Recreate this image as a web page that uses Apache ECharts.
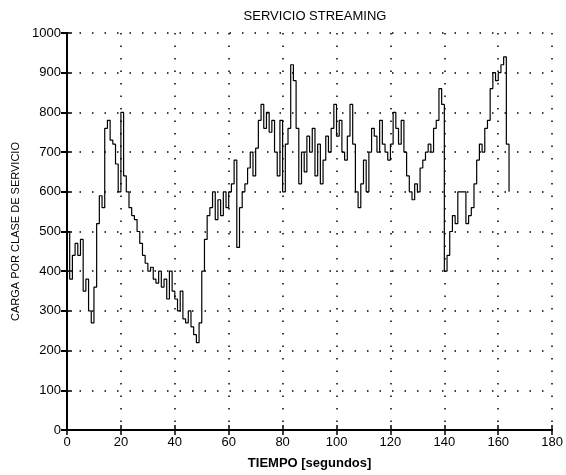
<!DOCTYPE html>
<html>
<head>
<meta charset="utf-8">
<script src="https://cdn.jsdelivr.net/npm/echarts@6/dist/echarts.min.js"></script>
<style>
  html, body { margin: 0; padding: 0; background: #fff; }
  #chart { width: 566px; height: 475px; }
</style>
</head>
<body>
<div id="chart"></div>
<script>
// Time instants (seconds) of each load sample
const tiempo = [
  0, 1, 2, 3, 4, 5, 6, 7, 8, 9, 10, 11, 12, 13, 14, 15, 16, 17, 18, 19,
  20, 21, 22, 23, 24, 25, 26, 27, 28, 29, 30, 31, 32, 33, 34, 35, 36, 37, 38, 39,
  40, 41, 42, 43, 44, 45, 46, 47, 48, 49, 50, 51, 52, 53, 54, 55, 56, 57, 58, 59,
  60, 61, 62, 63, 64, 65, 66, 67, 68, 69, 70, 71, 72, 73, 74, 75, 76, 77, 78, 79,
  80, 81, 82, 83, 84, 85, 86, 87, 88, 89, 90, 91, 92, 93, 94, 95, 96, 97, 98, 99,
  100, 101, 102, 103, 104, 105, 106, 107, 108, 109, 110, 111, 112, 113, 114, 115, 116, 117, 118, 119,
  120, 121, 122, 123, 124, 125, 126, 127, 128, 129, 130, 131, 132, 133, 134, 135, 136, 137, 138, 139,
  140, 141, 142, 143, 144, 145, 146, 147, 148, 149, 150, 151, 152, 153, 154, 155, 156, 157, 158, 159,
  160, 161, 162, 163, 164
];

// Streaming-service load at each instant
const carga = [
  500, 380, 440, 470, 440, 480, 350, 380, 300, 270, 360, 520, 590, 560, 760, 780, 730, 720, 670, 600,
  800, 640, 600, 560, 540, 530, 500, 470, 440, 420, 400, 410, 380, 370, 400, 360, 380, 330, 400, 350,
  330, 300, 350, 280, 270, 300, 260, 240, 220, 270, 400, 480, 540, 560, 600, 530, 580, 540, 600, 560,
  600, 620, 680, 460, 560, 600, 620, 660, 700, 640, 710, 780, 820, 760, 800, 750, 780, 700, 640, 780,
  600, 720, 760, 920, 880, 760, 620, 700, 650, 740, 700, 760, 640, 720, 620, 680, 740, 700, 760, 820,
  740, 780, 700, 680, 740, 820, 720, 600, 560, 620, 680, 600, 700, 760, 740, 700, 780, 720, 700, 680,
  720, 800, 760, 720, 780, 700, 640, 600, 580, 620, 600, 660, 680, 700, 720, 700, 760, 780, 860, 820,
  400, 440, 500, 540, 520, 600, 600, 600, 520, 540, 560, 620, 680, 720, 700, 760, 780, 860, 900, 880,
  900, 920, 940, 720, 600
];

// Axis ticks
const xTicks = [0, 20, 40, 60, 80, 100, 120, 140, 160, 180];
const yTicks = [0, 100, 200, 300, 400, 500, 600, 700, 800, 900, 1000];

const serie = tiempo.map((t, i) => [t, carga[i]]);

const gridDots = { show: true, lineStyle: { color: '#000', width: 1.5, type: [1.5, 11] } };
const tickFont = { color: '#000', fontFamily: 'Liberation Sans', fontSize: 13 };
const plain = (v) => String(v);

const chart = echarts.init(document.getElementById('chart'), null, { renderer: 'canvas' });
chart.setOption({
  animation: false,
  backgroundColor: '#fff',
  title: {
    text: 'SERVICIO STREAMING',
    left: 310,
    top: 5,
    textAlign: 'center',
    textStyle: { color: '#000', fontFamily: 'Liberation Sans', fontSize: 13, fontWeight: 'normal' }
  },
  grid: { left: 67, right: 13, top: 33, bottom: 45, containLabel: false },
  xAxis: [
    {
      type: 'value',
      min: xTicks[0],
      max: xTicks[xTicks.length - 1],
      interval: 20,
      name: 'TIEMPO [segundos]',
      nameLocation: 'middle',
      nameGap: 27,
      nameTextStyle: { color: '#000', fontFamily: 'Liberation Sans', fontSize: 13, fontWeight: 'bold' },
      axisLine: { show: true, lineStyle: { color: '#000', width: 2 } },
      axisTick: { show: true, inside: true, length: 5, lineStyle: { color: '#000', width: 1.5 } },
      axisLabel: Object.assign({ margin: 6, formatter: plain }, tickFont),
      splitLine: gridDots
    },
    {
      type: 'value',
      position: 'top',
      min: xTicks[0],
      max: xTicks[xTicks.length - 1],
      interval: 20,
      axisLine: { show: true, lineStyle: { color: '#000', width: 2 } },
      axisTick: { show: true, inside: true, length: 5, lineStyle: { color: '#000', width: 1.5 } },
      axisLabel: { show: false },
      splitLine: { show: false }
    }
  ],
  yAxis: [
    {
      type: 'value',
      min: yTicks[0],
      max: yTicks[yTicks.length - 1],
      interval: 100,
      name: 'CARGA POR CLASE DE SERVICIO',
      nameLocation: 'middle',
      nameRotate: 90,
      nameGap: 46,
      nameTextStyle: { color: '#000', fontFamily: 'Liberation Sans', fontSize: 11 },
      axisLine: { show: true, lineStyle: { color: '#000', width: 2 } },
      axisTick: { show: true, inside: true, length: 5, lineStyle: { color: '#000', width: 1.5 } },
      axisLabel: Object.assign({ margin: 6, formatter: plain }, tickFont),
      splitLine: gridDots
    },
    {
      type: 'value',
      position: 'right',
      min: yTicks[0],
      max: yTicks[yTicks.length - 1],
      interval: 100,
      axisLine: { show: false },
      axisTick: { show: true, inside: true, length: 6, lineStyle: { color: '#000', width: 2 } },
      axisLabel: { show: false },
      splitLine: { show: false }
    }
  ],
  series: [
    {
      type: 'line',
      step: 'end',
      data: serie,
      symbol: 'none',
      lineStyle: { color: '#000', width: 1.2 }
    }
  ]
});
</script>
</body>
</html>
